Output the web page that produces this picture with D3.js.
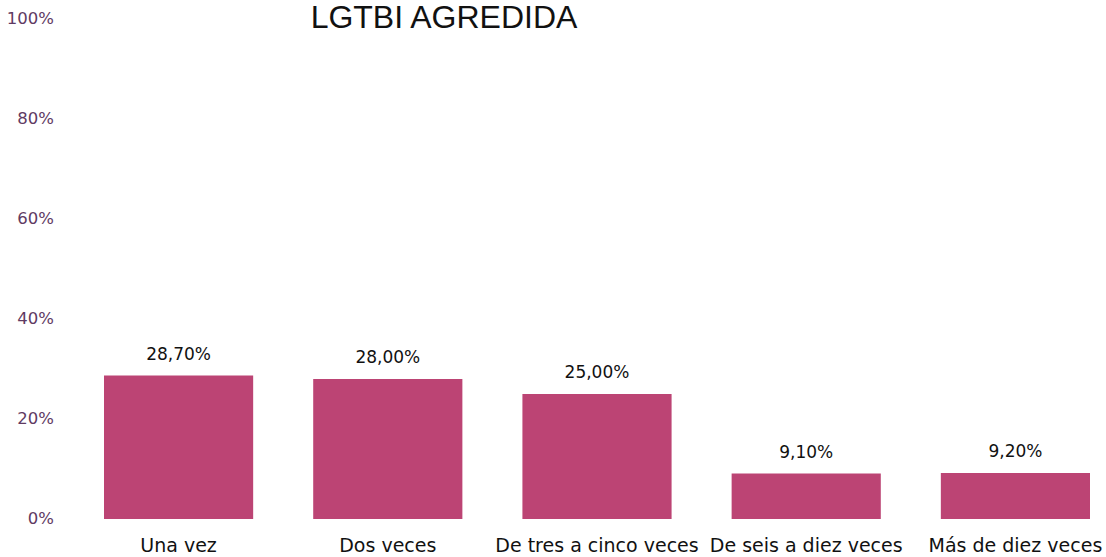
<!DOCTYPE html>
<html lang="es">
<head>
    <meta charset="UTF-8">
    <title>LGTBI AGREDIDA</title>
    <script src="https://cdn.jsdelivr.net/npm/d3@7"></script>
    <style>
        body { margin: 0; background: white; }
        .tick-label { font-family: "DejaVu Sans", sans-serif; font-size: 16.5px; fill: #5f3b63; }
        .val { font-family: "DejaVu Sans", sans-serif; font-size: 17px; fill: #111; }
        .cat { font-family: "DejaVu Sans", sans-serif; font-size: 19px; fill: #111; }
        .title { font-family: "Liberation Sans", Arial, sans-serif; font-size: 32px; fill: #111; }
    </style>
</head>
<body>
<div id="chart"></div>
<script>
    const categories = ["Una vez", "Dos veces", "De tres a cinco veces", "De seis a diez veces", "Más de diez veces"];
    const values = [28.7, 28.0, 25.0, 9.1, 9.2];
    const yTicks = [0, 20, 40, 60, 80, 100];
    const title = "LGTBI AGREDIDA";

    const width = 1106, height = 557;

    const svg = d3.select("#chart").append("svg")
        .attr("width", width)
        .attr("height", height);

    const x = d3.scaleBand()
        .domain(categories)
        .range([104, 1090])
        .paddingInner(0.287)
        .paddingOuter(0);

    const y = d3.scaleLinear()
        .domain([0, 100])
        .range([519, 19]);

    // y labels, no axis line
    svg.append("g")
        .selectAll("text")
        .data(yTicks)
        .join("text")
        .attr("class", "tick-label")
        .attr("x", 54)
        .attr("y", d => y(d))
        .attr("text-anchor", "end")
        .attr("dominant-baseline", "middle")
        .text(d => d + "%");

    svg.append("g")
        .selectAll("rect")
        .data(values)
        .join("rect")
        .attr("x", (d, i) => x(categories[i]))
        .attr("y", d => y(d))
        .attr("width", x.bandwidth())
        .attr("height", d => y(0) - y(d))
        .attr("fill", "#bc4474");

    const fmt = d => d3.format(".2f")(d).replace(".", ",") + "%";

    svg.append("g")
        .selectAll("text")
        .data(values)
        .join("text")
        .attr("class", "val")
        .attr("x", (d, i) => x(categories[i]) + x.bandwidth() / 2)
        .attr("y", d => y(d) - 16)
        .attr("text-anchor", "middle")
        .text(fmt);

    svg.append("g")
        .selectAll("text")
        .data(categories)
        .join("text")
        .attr("class", "cat")
        .attr("x", d => x(d) + x.bandwidth() / 2)
        .attr("y", 552)
        .attr("text-anchor", "middle")
        .text(d => d);

    svg.append("text")
        .attr("class", "title")
        .attr("x", 444)
        .attr("y", 28)
        .attr("text-anchor", "middle")
        .text(title);
</script>
</body>
</html>
